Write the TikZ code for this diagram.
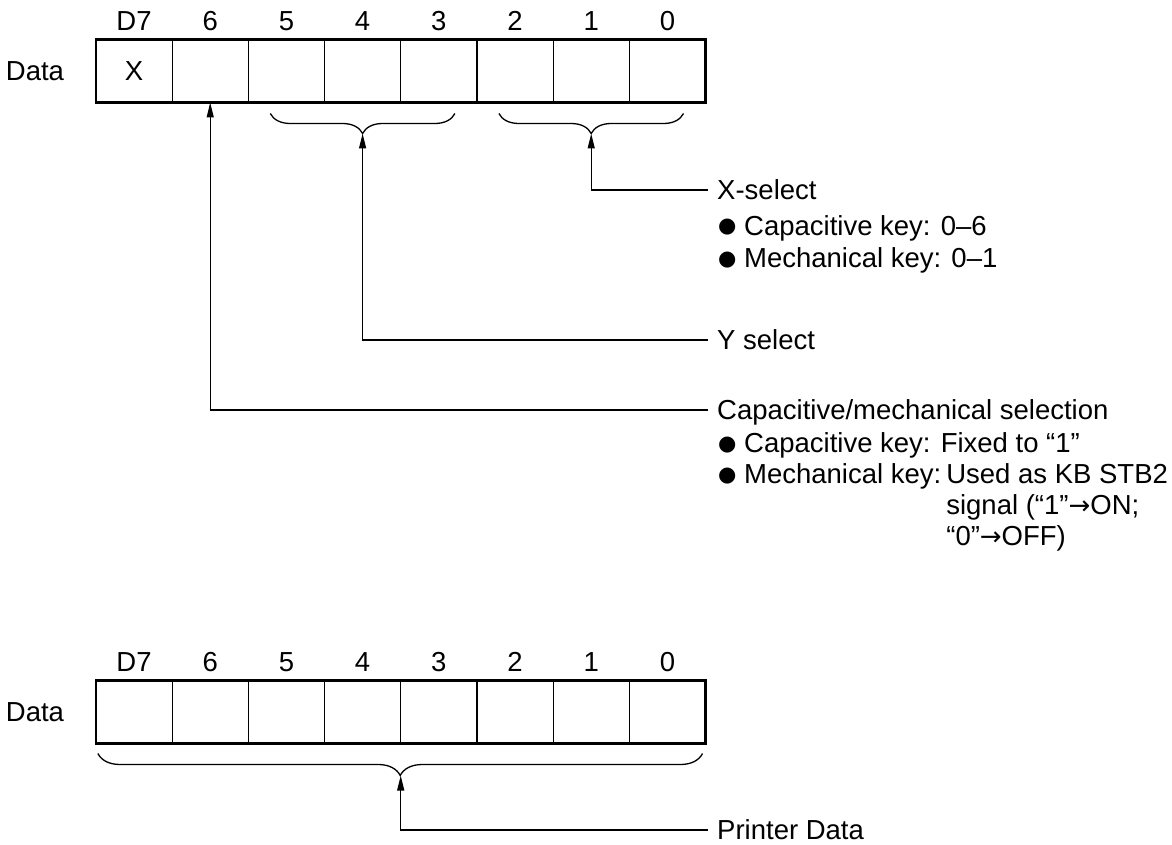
\documentclass[tikz,border=0pt]{standalone}
\usepackage{fontspec}
\setmainfont{Liberation Sans}
\newfontfamily\symfont{DejaVu Sans}
\newcommand\blt{\raisebox{2pt}{\symfont\fontsize{21}{21}\selectfont ●}}
\newcommand\arr{{\symfont\fontsize{26}{26}\selectfont →}}
\usetikzlibrary{arrows.meta,positioning,decorations.pathreplacing}

\begin{document}
\begin{tikzpicture}[
  x=1pt, y=-1pt,
  font=\fontsize{27.5}{31}\selectfont,
  cell/.style={draw, line width=1.2pt, minimum width=76.2pt, minimum height=63pt,
    inner sep=0pt, outer sep=0pt, text height=19.5pt, text depth=0pt},
  bit/.style={inner sep=0pt, text height=19.5pt, text depth=0pt},
  outline/.style={line width=2.6pt},
  lbl/.style={inner sep=0pt, text height=19.5pt, text depth=0pt},
  tag/.style={anchor=west, inner xsep=9pt, inner ysep=0pt, text height=19.5pt, text depth=0pt},
  item/.style={anchor=base west, inner sep=0pt},
  grp/.style={line width=1.3pt, decorate, decoration={brace, mirror, amplitude=20pt}},
  arrow/.style={-{Triangle[length=15pt,width=7pt]}, line width=1.3pt}
]
  \useasboundingbox (0,0) rectangle (1172,845);
  \node[lbl] (datahi) at (35,71) {Data};
  \node[cell,label={[bit,label distance=8.75pt]above:D7}] (hi7) at (134,71) {X};
  \node[cell,label={[bit,label distance=8.75pt]above:6}] (hi6) at (210.2,71) {};
  \node[cell,label={[bit,label distance=8.75pt]above:5}] (hi5) at (286.4,71) {};
  \node[cell,label={[bit,label distance=8.75pt]above:4}] (hi4) at (362.6,71) {};
  \node[cell,label={[bit,label distance=8.75pt]above:3}] (hi3) at (438.8,71) {};
  \node[cell,label={[bit,label distance=8.75pt]above:2}] (hi2) at (515,71) {};
  \node[cell,label={[bit,label distance=8.75pt]above:1}] (hi1) at (591.2,71) {};
  \node[cell,label={[bit,label distance=8.75pt]above:0}] (hi0) at (667.4,71) {};
  \draw[outline] (hi7.north west) rectangle (hi0.south east);
  \draw[grp] ([xshift=22pt,yshift=-11pt]hi5.south west) -- ([xshift=-22pt,yshift=-11pt]hi3.south east);
  \draw[grp] ([xshift=22pt,yshift=-11pt]hi2.south west) -- ([xshift=-22pt,yshift=-11pt]hi0.south east);
  \coordinate (ytip) at ([yshift=-31pt]hi4.south);
  \coordinate (xtip) at ([yshift=-31pt]hi1.south);

  \node[tag] (xsel) at (708,190) {X-select};
  \node[item] (xcap) at (718,235) {\blt\ Capacitive key: 0–6};
  \node[item] (xmech) at (718,267) {\blt\ Mechanical key: 0–1};
  \node[tag] (ysel) at (708,340) {Y select};
  \node[tag] (csel) at (708,410) {Capacitive/mechanical selection};
  \node[item] (ccap) at (718,452) {\blt\ Capacitive key: Fixed to “1”};
  \node[item] (cmech) at (718,483) {\begin{tabular}[t]{@{}l@{\hspace{5pt}}l@{}}
    \blt\ Mechanical key: & Used as KB STB2\\
    & signal (“1”\arr ON;\\
    & “0”\arr OFF)
  \end{tabular}};
  \draw[arrow] (xsel.west) -| (xtip);
  \draw[arrow] (ysel.west) -| (ytip);
  \draw[arrow] (csel.west) -| (hi6.south);

  \node[lbl] (datalo) at (35,712) {Data};
  \node[cell,label={[bit,label distance=8.75pt]above:D7}] (lo7) at (134,712) {};
  \node[cell,label={[bit,label distance=8.75pt]above:6}] (lo6) at (210.2,712) {};
  \node[cell,label={[bit,label distance=8.75pt]above:5}] (lo5) at (286.4,712) {};
  \node[cell,label={[bit,label distance=8.75pt]above:4}] (lo4) at (362.6,712) {};
  \node[cell,label={[bit,label distance=8.75pt]above:3}] (lo3) at (438.8,712) {};
  \node[cell,label={[bit,label distance=8.75pt]above:2}] (lo2) at (515,712) {};
  \node[cell,label={[bit,label distance=8.75pt]above:1}] (lo1) at (591.2,712) {};
  \node[cell,label={[bit,label distance=8.75pt]above:0}] (lo0) at (667.4,712) {};
  \draw[outline] (lo7.north west) rectangle (lo0.south east);
  \draw[grp,decoration={amplitude=22pt}] ([xshift=2pt,yshift=-10pt]lo7.south west) -- ([xshift=-3pt,yshift=-10pt]lo0.south east);
  \coordinate (ptip) at ([yshift=-32pt]lo4.south east);
  \node[tag] (pdat) at (708,830) {Printer Data};
  \draw[arrow] (pdat.west) -| (ptip);
\end{tikzpicture}
\end{document}
